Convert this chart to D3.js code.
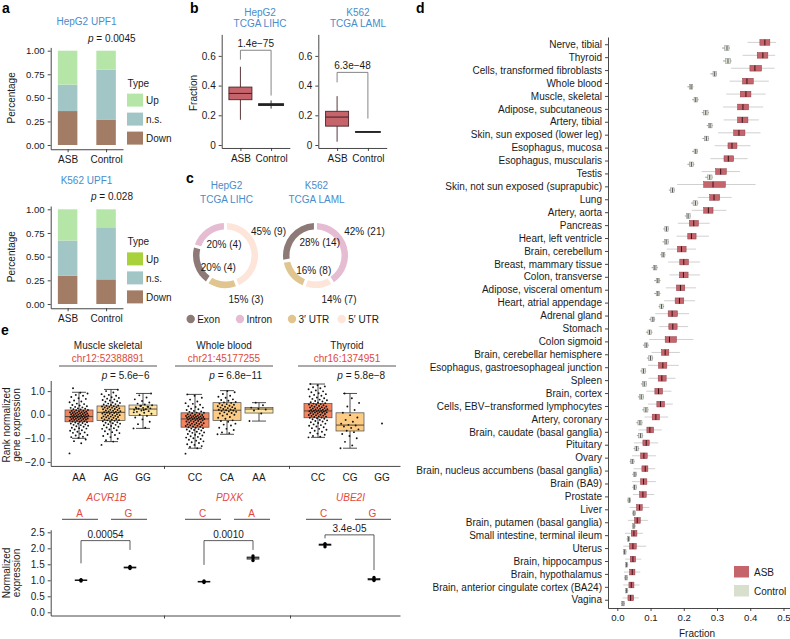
<!DOCTYPE html>
<html><head><meta charset="utf-8">
<script src="https://cdn.jsdelivr.net/npm/d3@7/dist/d3.min.js"></script>
<style>html,body{margin:0;padding:0;background:#fff;}svg{display:block;}</style>
</head><body>
<svg id="fig" width="790" height="639"></svg>
<script>
// ================= DATA =================
// panel a
const aGroups = ["ASB", "Control"];
const aTypes = ["Down", "n.s.", "Up"];
const aLegendTypes = ["Up", "n.s.", "Down"];
const aTitles = ["HepG2 UPF1", "K562 UPF1"];
const aP = ["0.0045", "0.028"];
const aHepDown = [0.36, 0.27], aHepNS = [0.28, 0.53], aHepUp = [0.36, 0.20];
const aK562Down = [0.30, 0.26], aK562NS = [0.37, 0.55], aK562Up = [0.33, 0.19];
const aYTicks = [0, 0.25, 0.5, 0.75, 1];
// panel b
const bTitles = [["HepG2", "TCGA LIHC"], ["K562", "TCGA LAML"]];
const bGroups = ["ASB", "Control"];
const bLIHC = [[0.17, 0.305, 0.347, 0.39, 0.527], [0.245, 0.266, 0.272, 0.278, 0.30]];
const bLAML = [[0.022, 0.127, 0.188, 0.227, 0.329], [0.084, 0.086, 0.088, 0.090, 0.093]];
const bBrackets = [[0.575, 0.638, 0.333], [0.422, 0.489, 0.178]];
const bP = ["1.4e−75", "6.3e−48"];
const bYTicks = [0, 0.2, 0.4, 0.6];
// panel c
const cTitles = [["HepG2", "TCGA LIHC"], ["K562", "TCGA LAML"]];
const cRegions = ["Exon", "Intron", "3′ UTR", "5′ UTR"];
const cHepOrder = ["5′ UTR", "3′ UTR", "Exon", "Intron"];
const cHepCounts = [9, 3, 4, 4];
const cK562Order = ["Intron", "5′ UTR", "3′ UTR", "Exon"];
const cK562Counts = [21, 7, 8, 14];
// panel d
const dTissues = ["Nerve, tibial","Thyroid","Cells, transformed fibroblasts","Whole blood","Muscle, skeletal","Adipose, subcutaneous","Artery, tibial","Skin, sun exposed (lower leg)","Esophagus, mucosa","Esophagus, muscularis","Testis","Skin, not sun exposed (suprapubic)","Lung","Artery, aorta","Pancreas","Heart, left ventricle","Brain, cerebellum","Breast, mammary tissue","Colon, transverse","Adipose, visceral omentum","Heart, atrial appendage","Adrenal gland","Stomach","Colon sigmoid","Brain, cerebellar hemisphere","Esophagus, gastroesophageal junction","Spleen","Brain, cortex","Cells, EBV−transformed lymphocytes","Artery, coronary","Brain, caudate (basal ganglia)","Pituitary","Ovary","Brain, nucleus accumbens (basal ganglia)","Brain (BA9)","Prostate","Liver","Brain, putamen (basal ganglia)","Small intestine, terminal ileum","Uterus","Brain, hippocampus","Brain, hypothalamus","Brain, anterior cingulate cortex (BA24)","Vagina"];
// [whisker low, q1, median, q3, whisker high]
const dASB = [[0.392,0.429,0.444,0.459,0.478],[0.377,0.421,0.438,0.453,0.475],[0.342,0.399,0.414,0.434,0.473],[0.338,0.377,0.390,0.409,0.456],[0.328,0.370,0.387,0.402,0.446],[0.318,0.362,0.378,0.395,0.439],[0.320,0.362,0.376,0.393,0.426],[0.303,0.350,0.366,0.384,0.431],[0.293,0.333,0.345,0.360,0.401],[0.280,0.321,0.334,0.350,0.392],[0.254,0.296,0.311,0.328,0.369],[0.180,0.260,0.288,0.325,0.416],[0.242,0.278,0.291,0.308,0.344],[0.224,0.260,0.274,0.288,0.328],[0.182,0.217,0.230,0.244,0.278],[0.178,0.212,0.223,0.237,0.276],[0.149,0.181,0.193,0.207,0.237],[0.153,0.188,0.200,0.214,0.249],[0.157,0.187,0.199,0.213,0.249],[0.146,0.178,0.190,0.203,0.237],[0.141,0.174,0.187,0.200,0.234],[0.114,0.153,0.165,0.181,0.216],[0.126,0.155,0.167,0.180,0.213],[0.096,0.144,0.157,0.178,0.229],[0.103,0.133,0.144,0.155,0.188],[0.092,0.124,0.137,0.149,0.185],[0.094,0.123,0.134,0.147,0.175],[0.087,0.113,0.124,0.136,0.163],[0.092,0.119,0.130,0.142,0.167],[0.082,0.105,0.116,0.127,0.153],[0.064,0.089,0.098,0.109,0.134],[0.050,0.077,0.087,0.096,0.123],[0.044,0.070,0.080,0.090,0.116],[0.049,0.074,0.084,0.092,0.114],[0.044,0.070,0.079,0.089,0.116],[0.047,0.067,0.077,0.087,0.111],[0.037,0.058,0.067,0.075,0.096],[0.032,0.052,0.060,0.069,0.092],[0.023,0.042,0.050,0.059,0.077],[0.018,0.037,0.047,0.057,0.087],[0.024,0.039,0.047,0.055,0.072],[0.020,0.037,0.045,0.053,0.069],[0.018,0.035,0.042,0.050,0.067],[0.016,0.032,0.040,0.049,0.065]];
const dCtrl = [[0.315,0.323,0.330,0.336,0.339],[0.318,0.326,0.333,0.341,0.344],[0.280,0.288,0.293,0.298,0.300],[0.211,0.217,0.222,0.227,0.229],[0.225,0.231,0.236,0.242,0.245],[0.254,0.260,0.266,0.273,0.276],[0.269,0.274,0.279,0.285,0.287],[0.256,0.262,0.268,0.274,0.276],[0.225,0.231,0.236,0.241,0.243],[0.211,0.217,0.223,0.229,0.232],[0.264,0.272,0.278,0.285,0.287],[0.155,0.160,0.166,0.171,0.173],[0.222,0.228,0.235,0.242,0.244],[0.203,0.208,0.213,0.219,0.221],[0.138,0.143,0.148,0.153,0.155],[0.136,0.142,0.147,0.153,0.155],[0.129,0.133,0.138,0.143,0.145],[0.103,0.108,0.113,0.119,0.122],[0.111,0.117,0.122,0.127,0.130],[0.111,0.117,0.122,0.127,0.130],[0.124,0.128,0.133,0.138,0.141],[0.096,0.101,0.107,0.112,0.114],[0.086,0.092,0.097,0.103,0.106],[0.077,0.082,0.087,0.092,0.095],[0.089,0.094,0.100,0.106,0.108],[0.069,0.074,0.079,0.085,0.087],[0.071,0.076,0.081,0.087,0.089],[0.062,0.067,0.072,0.078,0.080],[0.075,0.080,0.086,0.092,0.094],[0.057,0.062,0.068,0.074,0.076],[0.059,0.064,0.070,0.076,0.078],[0.049,0.053,0.058,0.063,0.066],[0.037,0.040,0.045,0.050,0.052],[0.045,0.048,0.053,0.057,0.059],[0.045,0.048,0.052,0.057,0.059],[0.030,0.032,0.036,0.039,0.041],[0.045,0.047,0.050,0.054,0.056],[0.044,0.046,0.050,0.053,0.055],[0.028,0.030,0.034,0.037,0.039],[0.017,0.019,0.022,0.026,0.028],[0.023,0.025,0.028,0.031,0.033],[0.021,0.023,0.026,0.030,0.032],[0.023,0.025,0.028,0.031,0.033],[0.011,0.013,0.017,0.021,0.023]];
const dXTicks = [0, 0.1, 0.2, 0.3, 0.4, 0.5];
const dLegend = ["ASB", "Control"];
// panel e (top)
const eTissues = ["Muscle skeletal", "Whole blood", "Thyroid"];
const eSnps = ["chr12:52388891", "chr21:45177255", "chr16:1374951"];
const eGenotypes = [["AA","AG","GG"], ["CC","CA","AA"], ["CC","CG","GG"]];
const eP = ["5.6e−6", "6.8e−11", "5.8e−8"];
const eStats = [
  [[-1.0,-0.3,-0.08,0.2,0.95], [-1.14,-0.25,0.1,0.37,1.07], [-0.58,-0.04,0.24,0.41,0.9]],
  [[-1.42,-0.53,-0.18,0.08,0.86], [-0.83,-0.25,0.19,0.51,1.02], [-0.27,0.07,0.24,0.31,0.51]],
  [[-0.96,-0.13,0.16,0.47,1.3], [-1.42,-0.69,-0.44,0.08,0.9], null]];
const eMuscleAA = [-1.64,-1.21,-1.12,-1.05,-0.98,-0.95,-0.93,-0.88,-0.86,-0.81,-0.77,-0.75,-0.72,-0.68,-0.66,-0.63,-0.59,-0.57,-0.55,-0.51,-0.49,-0.47,-0.44,-0.43,-0.41,-0.38,-0.37,-0.35,-0.33,-0.32,-0.3,-0.29,-0.28,-0.26,-0.25,-0.24,-0.22,-0.21,-0.2,-0.19,-0.18,-0.17,-0.16,-0.15,-0.14,-0.13,-0.12,-0.11,-0.1,-0.09,-0.08,-0.07,-0.06,-0.05,-0.04,-0.03,-0.02,-0.01,0,0.01,0.02,0.03,0.04,0.05,0.06,0.07,0.08,0.09,0.1,0.11,0.12,0.13,0.15,0.16,0.17,0.19,0.2,0.22,0.23,0.25,0.27,0.29,0.31,0.33,0.36,0.39,0.41,0.45,0.47,0.53,0.56,0.6,0.67,0.7,0.75,0.8,0.84,0.9,0.93,1.12];
const eMuscleAG = [-1.28,-1.14,-1.08,-1.02,-0.95,-0.9,-0.86,-0.82,-0.78,-0.74,-0.7,-0.66,-0.63,-0.6,-0.57,-0.54,-0.51,-0.48,-0.45,-0.43,-0.4,-0.38,-0.36,-0.34,-0.32,-0.3,-0.28,-0.26,-0.24,-0.23,-0.21,-0.2,-0.18,-0.16,-0.14,-0.13,-0.11,-0.1,-0.08,-0.07,-0.05,-0.04,-0.02,-0.01,0.01,0.02,0.04,0.05,0.07,0.08,0.09,0.1,0.11,0.12,0.14,0.15,0.17,0.18,0.2,0.21,0.23,0.24,0.26,0.27,0.29,0.3,0.32,0.33,0.35,0.36,0.38,0.39,0.41,0.43,0.45,0.47,0.5,0.52,0.55,0.57,0.6,0.62,0.65,0.68,0.71,0.74,0.77,0.8,0.84,0.87,0.94,1.0,1.06];
const eMuscleGG = [-0.58,-0.55,-0.4,-0.3,-0.2,-0.12,-0.05,0,0.04,0.08,0.12,0.15,0.18,0.21,0.23,0.25,0.27,0.29,0.31,0.34,0.37,0.4,0.43,0.47,0.52,0.58,0.65,0.73,0.82,0.9,0.2,0.26,0.33,0.38,0.1];
const eBloodCC = [-1.65,-1.42,-1.37,-1.33,-1.28,-1.25,-1.2,-1.17,-1.13,-1.1,-1.06,-1.03,-1.0,-0.97,-0.94,-0.91,-0.88,-0.85,-0.82,-0.8,-0.77,-0.75,-0.72,-0.7,-0.67,-0.65,-0.63,-0.61,-0.59,-0.57,-0.55,-0.53,-0.51,-0.5,-0.48,-0.47,-0.45,-0.44,-0.42,-0.41,-0.39,-0.38,-0.36,-0.35,-0.33,-0.32,-0.3,-0.29,-0.27,-0.26,-0.24,-0.23,-0.21,-0.2,-0.19,-0.18,-0.17,-0.16,-0.15,-0.14,-0.13,-0.12,-0.11,-0.1,-0.09,-0.08,-0.07,-0.06,-0.05,-0.04,-0.02,-0.01,0,0.02,0.03,0.06,0.08,0.09,0.12,0.14,0.16,0.2,0.23,0.25,0.3,0.33,0.36,0.42,0.46,0.49,0.56,0.64,0.72,0.8,0.86];
const eBloodCA = [-0.83,-0.78,-0.75,-0.65,-0.6,-0.55,-0.46,-0.42,-0.38,-0.3,-0.27,-0.24,-0.17,-0.13,-0.1,-0.04,0,0.02,0.05,0.07,0.1,0.12,0.14,0.16,0.18,0.19,0.21,0.22,0.24,0.26,0.28,0.3,0.32,0.34,0.36,0.38,0.4,0.42,0.45,0.47,0.5,0.52,0.54,0.59,0.62,0.65,0.72,0.76,0.8,0.88,0.95,1.0];
const eBloodAA = [-0.27,0.05,0.18,0.22,0.25,0.3,0.4,0.51];
const eThyroidCC = [-0.96,-0.93,-0.9,-0.85,-0.8,-0.76,-0.72,-0.68,-0.64,-0.6,-0.57,-0.53,-0.5,-0.47,-0.44,-0.41,-0.38,-0.35,-0.32,-0.29,-0.27,-0.24,-0.22,-0.19,-0.17,-0.15,-0.13,-0.12,-0.1,-0.08,-0.07,-0.05,-0.04,-0.02,-0.01,0,0.02,0.03,0.05,0.06,0.08,0.09,0.1,0.11,0.12,0.13,0.14,0.15,0.16,0.17,0.18,0.19,0.2,0.21,0.22,0.23,0.25,0.26,0.28,0.29,0.31,0.32,0.34,0.35,0.37,0.38,0.4,0.42,0.43,0.45,0.47,0.49,0.51,0.53,0.56,0.58,0.61,0.64,0.67,0.7,0.73,0.77,0.8,0.84,0.87,0.91,0.95,0.99,1.03,1.08,1.12,1.16,1.2,1.25,1.3];
const eThyroidCG = [-1.42,-1.3,-1.15,-1.0,-0.9,-0.82,-0.74,-0.68,-0.62,-0.56,-0.5,-0.46,-0.43,-0.38,-0.3,-0.22,-0.12,-0.02,0.08,0.2,0.35,0.5,0.7,0.9];
const eThyroidGG = [-0.37];
const ePoints = [[eMuscleAA, eMuscleAG, eMuscleGG], [eBloodCC, eBloodCA, eBloodAA], [eThyroidCC, eThyroidCG, eThyroidGG]];
const eYTicks = [-2, -1, 0, 1];
// panel e (bottom)
const eGenes = ["ACVR1B", "PDXK", "UBE2I"];
const eAlleles = [["A","G"], ["C","A"], ["C","G"]];
const eReps = [[[0.98,1.0,1.02],[1.37,1.40,1.43]], [[0.93,0.96,0.98],[1.62,1.70,1.76]], [[2.05,2.12,2.14],[0.99,1.03,1.09]]];
const eBrackets = [[1.53,2.24,1.95], [1.48,2.24,1.95], [2.31,2.42,1.32]];
const eBracketP = ["0.00054", "0.0010", "3.4e-05"];
const eBotTicks = [0, 0.5, 1, 1.5, 2, 2.5];

// ================= STYLE / LAYOUT =================
const FONT = '"Liberation Sans", Arial, Helvetica, sans-serif';
const BLUE = "#4a8ccb", RED = "#e2483c", AX = "#333", TXT = "#1a1a1a";
const aColors = {"Up": "#b5e6a8", "n.s.": "#a2c5c6", "Down": "#a27c65"};
const cColors = {"Exon": "#8d7a77", "Intron": "#e6bcd3", "3′ UTR": "#e0c591", "5′ UTR": "#fde5d9"};
const eGenoColors = ["#f4845e", "#fccb84", "#fde4a2"];

const svg = d3.select("#fig").attr("font-family", FONT);

function text(g, x, y, s, o = {}) {
  const t = g.append("text").attr("x", x).attr("y", y).text(s)
    .attr("font-size", o.size || 10).attr("fill", o.fill || TXT)
    .attr("text-anchor", o.anchor || "start");
  if (o.weight) t.attr("font-weight", o.weight);
  if (o.style) t.attr("font-style", o.style);
  if (o.rotate) t.attr("transform", `rotate(${o.rotate},${x},${y})`);
  return t;
}
function styleAxis(g, fs = 10) {
  g.attr("font-family", FONT);
  g.selectAll("path.domain").attr("stroke", AX).attr("stroke-width", 0.9);
  g.selectAll(".tick line").attr("stroke", AX).attr("stroke-width", 0.9);
  g.selectAll(".tick text").attr("fill", TXT).attr("font-size", fs);
}
function pLabel(g, x, y, val) {
  const t = g.append("text").attr("x", x).attr("y", y).attr("font-size", 10).attr("fill", TXT);
  t.append("tspan").attr("font-style", "italic").text("p");
  t.append("tspan").text(" = " + val);
}

// panel letters
[["a", 2, 13], ["b", 190, 13], ["c", 186, 183], ["d", 416, 13], ["e", 1, 335]].forEach(([l, x, y]) =>
  text(svg, x, y, l, {size: 14, weight: "bold", fill: "#000"}));

// ================= PANEL a =================
function panelA(idx, down, ns, up, y0, k, legendUp) {
  const g = svg.append("g");
  const y = d3.scaleLinear().domain([-0.045, 1.035]).range([y0 + 0.045 * k, y0 - 1.035 * k]);
  const x = d3.scalePoint().domain(aGroups).range([50.7, 123]).padding(0.44);
  const rows = aGroups.map((gr, i) => ({group: gr, "Down": down[i], "n.s.": ns[i], "Up": up[i]}));
  const stacked = d3.stack().keys(aTypes)(rows);
  stacked.forEach(layer => {
    g.selectAll(null).data(layer).join("rect")
      .attr("x", d => x(d.data.group) - 9.75).attr("width", 19.5)
      .attr("y", d => y(d[1])).attr("height", d => y(d[0]) - y(d[1]))
      .attr("fill", aColors[layer.key]);
  });
  const ya = g.append("g").attr("transform", "translate(50.7,0)")
    .call(d3.axisLeft(y).tickValues(aYTicks).tickFormat(d3.format(".2f")).tickSize(3).tickSizeOuter(0));
  styleAxis(ya, 9.6);
  const xa = g.append("g").attr("transform", `translate(0,${y0 + 0.045 * k})`)
    .call(d3.axisBottom(x).tickSize(3).tickSizeOuter(0).tickPadding(4));
  styleAxis(xa, 10);
  text(g, 86.5, y0 - 1.035 * k - 22, aTitles[idx], {anchor: "middle", fill: BLUE});
  pLabel(g, idx === 0 ? 88 : 91, y0 - 1.035 * k - 5.5, aP[idx]);
  text(g, 15, (y(0) + y(1)) / 2, "Percentage", {anchor: "middle", rotate: -90});
  // legend
  text(g, 127.5, y(0.62), "Type", {size: 10});
  aLegendTypes.forEach((t, i) => {
    const yy = y(0.545) + i * 19;
    g.append("rect").attr("x", 127).attr("y", yy).attr("width", 16).attr("height", 13)
      .attr("fill", t === "Up" ? legendUp : aColors[t]);
    text(g, 146, yy + 10.5, t, {size: 10});
  });
}
panelA(0, aHepDown, aHepNS, aHepUp, 145, 94.3, "#b5e6a8");
panelA(1, aK562Down, aK562NS, aK562Up, 304, 94.7, "#a9d13b");

// ================= PANEL b =================
function panelB(idx, stats, axisX, x1, bracket) {
  const g = svg.append("g");
  const y = d3.scaleLinear().domain([-0.02, 0.745]).range([145 + 0.02 * 148.5, 145 - 0.745 * 148.5]);
  const x = d3.scalePoint().domain(bGroups).range([axisX, x1]).padding(0.61);
  const ya = g.append("g").attr("transform", `translate(${axisX},0)`)
    .call(d3.axisLeft(y).tickValues(bYTicks).tickFormat(d => d === 0 ? "0" : d3.format(".1f")(d)).tickSize(3).tickSizeOuter(0));
  styleAxis(ya, 10);
  const xa = g.append("g").attr("transform", `translate(0,${y.range()[0]})`)
    .call(d3.axisBottom(x).tickSize(3).tickSizeOuter(0).tickPadding(4));
  styleAxis(xa, 10);
  bGroups.forEach((gr, i) => {
    const s = stats[i], cx = x(gr), w = i === 0 ? 23 : 25;
    const stroke = i === 0 ? "#4a2327" : "#222";
    g.append("line").attr("x1", cx).attr("x2", cx).attr("y1", y(s[0])).attr("y2", y(s[4])).attr("stroke", stroke).attr("stroke-width", 0.9);
    g.append("rect").attr("x", cx - w / 2).attr("width", w).attr("y", y(s[3])).attr("height", Math.max(0.5, y(s[1]) - y(s[3])))
      .attr("fill", i === 0 ? "#c6646c" : "#888").attr("stroke", stroke).attr("stroke-width", 0.9);
    g.append("line").attr("x1", cx - w / 2).attr("x2", cx + w / 2).attr("y1", y(s[2])).attr("y2", y(s[2])).attr("stroke", stroke).attr("stroke-width", i === 0 ? 1.1 : 1.6);
  });
  const [lb, top, rb] = bracket;
  g.append("path").attr("d", `M${x("ASB")},${y(lb)}V${y(top)}H${x("Control")}V${y(rb)}`)
    .attr("fill", "none").attr("stroke", "#777").attr("stroke-width", 0.9);
  text(g, (x("ASB") + x("Control")) / 2, y(top) - 3, bP[idx], {anchor: "middle"});
  const tc = idx === 0 ? 260 : 358;
  text(g, tc, 15.5, bTitles[idx][0], {anchor: "middle", fill: BLUE});
  text(g, tc, 27.3, bTitles[idx][1], {anchor: "middle", fill: BLUE});
}
panelB(0, bLIHC, 221.7, 289.8, bBrackets[0]);
panelB(1, bLAML, 318.3, 386.7, bBrackets[1]);
text(svg, 197, 93, "Fraction", {anchor: "middle", rotate: -90});

// ================= PANEL c =================
const cLabelOffsets = [
  [[43, -24.5], [20.5, 43.5], [-7.2, 12], [-1.5, -11.5]],
  [[49, -23.8], [23.5, 43.5], [-1.8, 15.3], [4.2, -12.7]]];
function panelC(idx, order, counts, cx, cy) {
  const g = svg.append("g").attr("transform", `translate(${cx},${cy})`);
  const total = d3.sum(counts);
  const data = order.map((r, i) => ({region: r, n: counts[i]}));
  const pie = d3.pie().sort(null).value(d => d.n).padAngle(0.075);
  const arc = d3.arc().innerRadius(26).outerRadius(32.5);
  g.selectAll("path").data(pie(data)).join("path").attr("d", arc).attr("fill", d => cColors[d.data.region]);
  pie(data).forEach((d, i) => {
    const [dx, dy] = cLabelOffsets[idx][i];
    text(g, dx, dy + 3.6, `${Math.round(d.data.n / total * 100)}% (${d.data.n})`, {anchor: "middle"});
  });
  text(svg, cx + 1, 189, cTitles[idx][0], {anchor: "middle", fill: BLUE});
  text(svg, cx + 1, 202.5, cTitles[idx][1], {anchor: "middle", fill: BLUE});
}
panelC(0, cHepOrder, cHepCounts, 225.5, 255.5);
panelC(1, cK562Order, cK562Counts, 315.5, 255.5);
const cLegX = [190.7, 240, 292, 341.7];
cRegions.forEach((r, i) => {
  svg.append("circle").attr("cx", cLegX[i]).attr("cy", 319).attr("r", 4.2).attr("fill", cColors[r]);
  text(svg, cLegX[i] + 6.5, 322.6, r);
});

// ================= PANEL d =================
(function () {
  const g = svg.append("g");
  const y = d3.scaleBand().domain(dTissues).range([37, 608]).paddingInner(0).paddingOuter(0.1);
  const x = d3.scaleLinear().domain([-0.028, 0.5196]).range([608, 790]);
  const ya = g.append("g").attr("transform", "translate(608,0)")
    .call(d3.axisLeft(y).tickSize(3).tickSizeOuter(0));
  styleAxis(ya, 10);
  const xa = g.append("g").attr("transform", "translate(0,608)")
    .call(d3.axisBottom(x).tickValues(dXTicks).tickFormat(d3.format(".1f")).tickSize(3).tickSizeOuter(0));
  styleAxis(xa, 9.6);
  text(g, 697, 637, "Fraction", {anchor: "middle"});
  function boxes(stats, top, bot, fill, stroke, wcol, mcol) {
    dTissues.forEach((t, i) => {
      const s = stats[i], c = y(t) + y.bandwidth() / 2;
      const y0 = c + top, y1 = c + bot, ym = (y0 + y1) / 2;
      g.append("line").attr("x1", x(s[0])).attr("x2", x(s[4])).attr("y1", ym).attr("y2", ym).attr("stroke", wcol).attr("stroke-width", 0.8);
      g.append("rect").attr("x", x(s[1])).attr("width", x(s[3]) - x(s[1])).attr("y", y0).attr("height", y1 - y0)
        .attr("fill", fill).attr("stroke", stroke).attr("stroke-width", 0.5);
      g.append("line").attr("x1", x(s[2])).attr("x2", x(s[2])).attr("y1", y0).attr("y2", y1).attr("stroke", mcol).attr("stroke-width", 1);
    });
  }
  boxes(dASB, -5.2, 0.5, "#c6646c", "#8c3c45", "#c4c4c4", "#3d1016");
  boxes(dCtrl, 1.0, 5.6, "#dde4d4", "#8a8a8a", "#8a8a8a", "#555");
  // legend
  ["#c6646c", "#d8e0cd"].forEach((c, i) => {
    const yy = 566 + i * 19;
    g.append("rect").attr("x", 734).attr("y", yy).attr("width", 15).attr("height", 11.5).attr("fill", c);
    text(g, 754, yy + 9.5, dLegend[i]);
  });
})();

// ================= PANEL e (top) =================
const eFacetCenter = [111, 227, 350];
(function () {
  const g = svg.append("g");
  const y = d3.scaleLinear().domain([-2.17, 1.45]).range([414.7 + 2.17 * 23.6, 414.7 - 1.45 * 23.6]);
  const ya = g.append("g").attr("transform", "translate(50.7,0)")
    .call(d3.axisLeft(y).tickValues(eYTicks).tickSize(3).tickSizeOuter(0));
  styleAxis(ya, 10);
  const xl = d3.scaleLinear().domain([50.7, 400]).range([50.7, 400]);
  const xa = g.append("g").attr("transform", `translate(0,${y.range()[0]})`)
    .call(d3.axisBottom(xl).tickValues([164, 289]).tickFormat("").tickSize(3).tickSizeOuter(0));
  styleAxis(xa);
  text(g, 9.5, 425, "Rank normalized", {anchor: "middle", rotate: -90});
  text(g, 20, 425, "gene expression", {anchor: "middle", rotate: -90});
  eTissues.forEach((t, f) => {
    const c = eFacetCenter[f];
    const x = d3.scalePoint().domain(eGenotypes[f]).range([c - 32, c + 32]);
    text(g, c - 3, 349.3, t, {anchor: "middle"});
    text(g, c - 3, 361.7, eSnps[f], {anchor: "middle", fill: RED});
    g.append("line").attr("x1", c - 52).attr("x2", c + 46).attr("y1", 366).attr("y2", 366).attr("stroke", "#444").attr("stroke-width", 0.9);
    pLabel(g, [101.7, 209.3, 337.3][f], 379, eP[f]);
    eGenotypes[f].forEach((gt, j) => {
      const cx = x(gt), s = eStats[f][j], w = 28;
      text(g, cx, 480.7, gt, {anchor: "middle"});
      if (s) {
        g.append("line").attr("x1", cx).attr("x2", cx).attr("y1", y(s[0])).attr("y2", y(s[4])).attr("stroke", "#222").attr("stroke-width", 0.8);
        [s[0], s[4]].forEach(v => g.append("line").attr("x1", cx - 7).attr("x2", cx + 7).attr("y1", y(v)).attr("y2", y(v)).attr("stroke", "#222").attr("stroke-width", 0.8));
        g.append("rect").attr("x", cx - w / 2).attr("width", w).attr("y", y(s[3])).attr("height", y(s[1]) - y(s[3]))
          .attr("fill", eGenoColors[j]).attr("stroke", "#4a4a4a").attr("stroke-width", 0.7);
        g.append("line").attr("x1", cx - w / 2).attr("x2", cx + w / 2).attr("y1", y(s[2])).attr("y2", y(s[2])).attr("stroke", "#4a3a2a").attr("stroke-width", 0.9);
      }
      const pts = ePoints[f][j];
      g.selectAll(null).data(pts).join("circle")
        .attr("cx", (d, i) => cx + (pts.length > 1 ? (((i * 0.6180339) % 1) - 0.5) * 19 : 0))
        .attr("cy", d => y(d)).attr("r", 0.95).attr("fill", "#111");
    });
  });
})();

// ================= PANEL e (bottom) =================
const eBotCenter = [105.5, 228.5, 349.5];
(function () {
  const g = svg.append("g");
  const y = d3.scaleLinear().domain([-0.1, 2.58]).range([612.3 + 0.1 * 32, 612.3 - 2.58 * 32]);
  const ya = g.append("g").attr("transform", "translate(50.7,0)")
    .call(d3.axisLeft(y).tickValues(eBotTicks).tickFormat(d3.format(".1f")).tickSize(3).tickSizeOuter(0));
  styleAxis(ya, 10);
  const xl = d3.scaleLinear().domain([50.7, 400]).range([50.7, 400]);
  const xa = g.append("g").attr("transform", `translate(0,${y.range()[0]})`)
    .call(d3.axisBottom(xl).tickValues([164, 290]).tickFormat("").tickSize(3).tickSizeOuter(0));
  styleAxis(xa);
  text(g, 9.5, 573, "Normalized", {anchor: "middle", rotate: -90});
  text(g, 20, 573, "expression", {anchor: "middle", rotate: -90});
  eGenes.forEach((gene, f) => {
    const c = eBotCenter[f];
    const x = d3.scalePoint().domain([0, 1]).range([c - 24.5, c + 24.5]);
    text(g, c + 1, 501, gene, {anchor: "middle", fill: RED, style: "italic"});
    eAlleles[f].forEach((al, j) => {
      const ax = x(j);
      text(g, ax - 1.5, 516.5, al, {anchor: "middle", fill: RED});
      g.append("line").attr("x1", ax - 19).attr("x2", ax + 17).attr("y1", 519.3).attr("y2", 519.3).attr("stroke", "#333").attr("stroke-width", 0.9);
      const reps = eReps[f][j].slice().sort(d3.ascending);
      const q1 = d3.quantile(reps, 0.25), md = d3.quantile(reps, 0.5), q3 = d3.quantile(reps, 0.75);
      g.append("line").attr("x1", ax).attr("x2", ax).attr("y1", y(reps[0])).attr("y2", y(reps[reps.length - 1])).attr("stroke", "#222").attr("stroke-width", 0.8);
      g.append("rect").attr("x", ax - 6).attr("width", 12).attr("y", y(q3)).attr("height", Math.max(0.6, y(q1) - y(q3)))
        .attr("fill", "#cfcfcf").attr("stroke", "#333").attr("stroke-width", 0.7);
      g.append("line").attr("x1", ax - 6).attr("x2", ax + 6).attr("y1", y(md)).attr("y2", y(md)).attr("stroke", "#111").attr("stroke-width", 1.2);
      g.selectAll(null).data(reps).join("circle").attr("cx", ax).attr("cy", d => y(d)).attr("r", 1.7).attr("fill", "#000");
    });
    const [lb, top, rb] = eBrackets[f];
    g.append("path").attr("d", `M${x(0)},${y(lb)}V${y(top)}H${x(1)}V${y(rb)}`)
      .attr("fill", "none").attr("stroke", "#333").attr("stroke-width", 0.8);
    text(g, (x(0) + x(1)) / 2, y(top) - 3, eBracketP[f], {anchor: "middle"});
  });
})();
</script>
</body></html>
